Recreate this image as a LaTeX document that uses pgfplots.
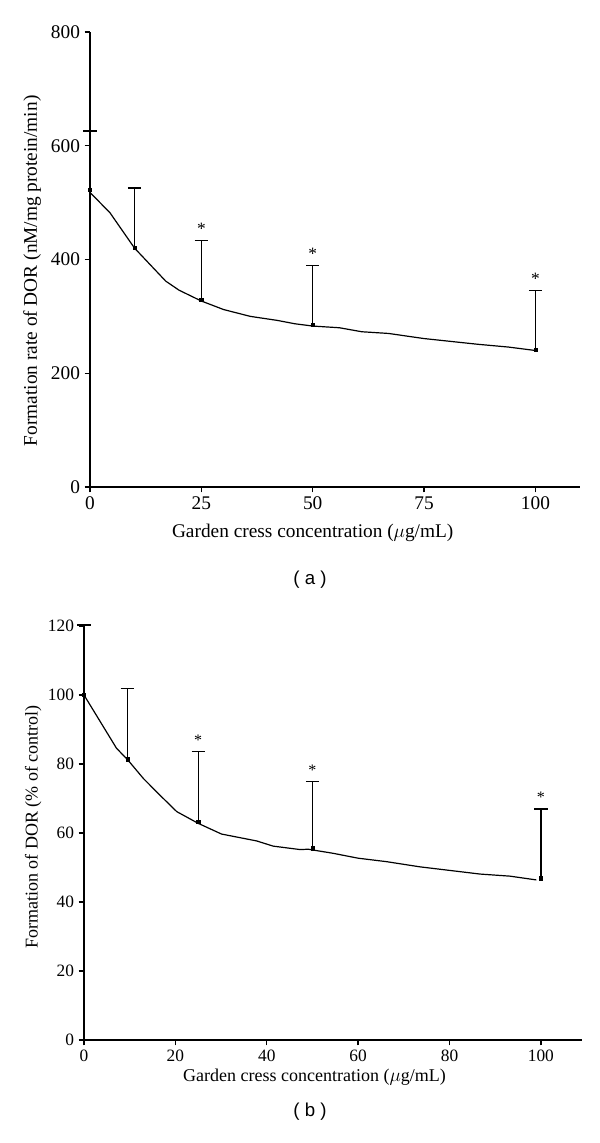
\documentclass[border=0pt]{standalone}
\usepackage{pgfplots}
\pgfplotsset{compat=1.18}
\usepackage{pgfplotstable}
\usepackage{fontspec}
\setmainfont{Liberation Serif}
\newfontfamily\capfont{Liberation Sans}

\pgfplotstableread{
x y e
0 522 104
10 420 106
25 329 105
50 285 105
100 241 105
}\dataA
\pgfplotstableread{
x y
0 518
4.5 482
10 420
17 362
20 346
25 327
30 312
36 300
42 293
46 287
50 283
56 280
61 273
67 270
75 261
87 251
94 246
100 240
}\lineA
\pgfplotstableread{
x y e
0 100 20.3
9.5 81.4 20.5
25 63.3 20.3
50 55.6 19.3
100 46.9 20.1
}\dataB
\pgfplotstableread{
x y
0 100
7.1 84.6
9.7 81
13 75.8
16.6 71
20.3 66.2
25 62.8
30.1 59.7
37.8 57.7
41.4 56.2
47.3 55.2
49.1 55.3
54.6 54.1
60 52.7
66.2 51.7
73.5 50.2
86.7 48.1
93.2 47.5
99 46.4
}\lineB

\pgfplotsset{
  myaxis/.style={
    scale only axis,
    axis x line*=bottom, axis y line*=left,
    axis line style={-, line width=1pt},
    tick align=outside,
    major tick length=4pt,
    every tick/.style={black, line width=1pt},
    /pgf/number format/assume math mode=true,
    xmin=0, ymin=0,
    clip=false,
  },
}

\begin{document}
\begin{tikzpicture}
\path (0,0) rectangle (450pt,-857.25pt);

% ---------- panel (a)
\begin{axis}[myaxis,
  at={(67.5pt,-365.25pt)}, anchor=south west,
  width=367.5pt, height=341.25pt,
  xmax=110, ymax=800,
  xtick={0,25,50,75,100}, ytick={0,200,400,600,800},
  tick label style={font=\fontsize{14.5}{16}\selectfont},
  xlabel={Garden cress concentration ($\mu$g/mL)},
  ylabel={Formation rate of DOR (nM/mg protein/min)},
  label style={font=\fontsize{14.5}{17}\selectfont},
  xlabel style={at={(axis description cs:0.4545,0)}, anchor=center, yshift=-34.5pt},
  ylabel style={at={(axis description cs:-0.118,0.475)}, anchor=center},
]
\addplot[black, line width=0.9pt] table[x=x,y=y] {\lineA};
\addplot[black, only marks, mark=square*, mark size=1.2pt,
  error bars/.cd, y dir=plus, y explicit,
  error bar style={line width=1pt},
  error mark options={line width=1pt, mark size=5pt, rotate=90}]
  table[x=x,y=y,y error=e] {\dataA};
\addplot[only marks, mark=none, nodes near coords={*},
  every node near coord/.style={font=\fontsize{13}{14}\selectfont, anchor=south, yshift=1pt}]
  coordinates {(25,434) (50,390) (100,346)};
\end{axis}
\node[font=\capfont\fontsize{14}{16}\selectfont] at (232.5pt,-435pt) {( a )};

% ---------- panel (b)
\begin{axis}[myaxis,
  at={(63pt,-780pt)}, anchor=south west,
  width=373.5pt, height=310.5pt,
  xmax=109, ymax=120,
  xtick={0,20,40,60,80,100}, ytick={0,20,40,60,80,100,120},
  tick label style={font=\fontsize{13}{15}\selectfont},
  xlabel={Garden cress concentration ($\mu$g/mL)},
  ylabel={Formation of DOR (\% of control)},
  label style={font=\fontsize{13.5}{15}\selectfont},
  xlabel style={at={(axis description cs:0.463,0)}, anchor=center, yshift=-28pt},
  ylabel style={at={(axis description cs:-0.102,0.514)}, anchor=center},
]
\addplot[black, line width=0.9pt] table[x=x,y=y] {\lineB};
\addplot[black, only marks, mark=square*, mark size=1.2pt,
  error bars/.cd, y dir=plus, y explicit,
  error bar style={line width=1pt},
  error mark options={line width=1pt, mark size=5pt, rotate=90}]
  table[x=x,y=y,y error=e] {\dataB};
\addplot[only marks, mark=none, nodes near coords={*},
  every node near coord/.style={font=\fontsize{12}{13}\selectfont, anchor=south, yshift=1pt}]
  coordinates {(25,83.6) (50,74.9) (100,67)};
\end{axis}
\node[font=\capfont\fontsize{14}{16}\selectfont] at (232.5pt,-834pt) {( b )};
\end{tikzpicture}
\end{document}
